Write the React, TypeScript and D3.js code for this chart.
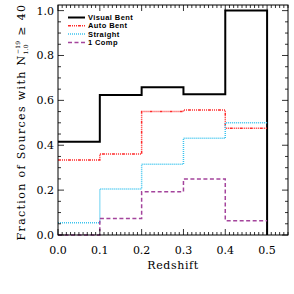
import React, { useRef, useEffect } from "react";
import * as d3 from "d3";

const binEdges = [0.0, 0.1, 0.2, 0.3, 0.4, 0.5];
const visualBent = [0.416, 0.624, 0.658, 0.627, 1.0];
const autoBent = [0.334, 0.361, 0.55, 0.557, 0.476];
const straight = [0.055, 0.205, 0.315, 0.431, 0.5];
const oneComp = [0.0, 0.074, 0.193, 0.25, 0.064];
const xTicks = [0.0, 0.1, 0.2, 0.3, 0.4, 0.5];
const yTicks = [0.0, 0.2, 0.4, 0.6, 0.8, 1.0];

const series = [
  { name: "Visual Bent", values: visualBent, color: "#000000", width: 2, dash: null, dropEnd: true },
  { name: "Auto Bent", values: autoBent, color: "#ff2a2a", width: 1.5, dash: "3,1,1,1,1,1,1,1", dropEnd: false },
  { name: "Straight", values: straight, color: "#3cc4ee", width: 1.5, dash: "1,1", dropEnd: false },
  { name: "1 Comp", values: oneComp, color: "#a4449c", width: 1.5, dash: "4,2.5", dropEnd: false },
];

const App = () => {
  const svgRef = useRef<SVGSVGElement>(null);

  useEffect(() => {
    if (!svgRef.current) return;
    const svg = d3.select(svgRef.current);
    svg.selectAll("*").remove();

    const width = 294;
    const height = 294;
    const left = 58;
    const right = 288;
    const top = 5;
    const bottom = 235;

    const x = d3.scaleLinear([0, 0.55], [left, right]);
    const y = d3.scaleLinear([0, 1.025], [bottom, top]);

    svg.attr("width", width).attr("height", height);

    // histograms
    const line = d3
      .line<[number, number]>()
      .x((d) => x(d[0]))
      .y((d) => y(d[1]))
      .curve(d3.curveStepAfter);

    series.forEach((s) => {
      const pts: [number, number][] = s.values.map((v, i) => [binEdges[i], v]);
      pts.push([binEdges[binEdges.length - 1], s.values[s.values.length - 1]]);
      if (s.dropEnd) pts.push([binEdges[binEdges.length - 1], 0]);
      svg
        .append("path")
        .attr("fill", "none")
        .attr("stroke", s.color)
        .attr("stroke-width", s.width)
        .attr("stroke-dasharray", s.dash)
        .attr("d", line(pts));
    });

    // frame
    svg
      .append("rect")
      .attr("x", left)
      .attr("y", top)
      .attr("width", right - left)
      .attr("height", bottom - top)
      .attr("fill", "none")
      .attr("stroke", "#000")
      .attr("stroke-width", 1);

    // inward ticks on all four sides
    const g = svg.append("g").attr("stroke", "#000").attr("stroke-width", 0.8);
    d3.range(0, 0.5501, 0.01).forEach((v) => {
      const major = Math.abs(v * 10 - Math.round(v * 10)) < 1e-6;
      const len = major ? 6 : 3;
      g.append("line").attr("x1", x(v)).attr("x2", x(v)).attr("y1", bottom).attr("y2", bottom - len);
      g.append("line").attr("x1", x(v)).attr("x2", x(v)).attr("y1", top).attr("y2", top + len);
    });
    d3.range(0, 1.0001, 0.05).forEach((v) => {
      const major = Math.abs(v * 5 - Math.round(v * 5)) < 1e-6;
      const len = major ? 6 : 3;
      g.append("line").attr("x1", left).attr("x2", left + len).attr("y1", y(v)).attr("y2", y(v));
      g.append("line").attr("x1", right).attr("x2", right - len).attr("y1", y(v)).attr("y2", y(v));
    });

    const font = "'DejaVu Serif', serif";

    // tick labels
    svg
      .append("g")
      .selectAll("text")
      .data(xTicks)
      .join("text")
      .attr("x", (d) => x(d))
      .attr("y", bottom + 19)
      .attr("text-anchor", "middle")
      .attr("font-family", font)
      .attr("font-size", 11)
      .text((d) => d.toFixed(1));

    svg
      .append("g")
      .selectAll("text")
      .data(yTicks)
      .join("text")
      .attr("x", left - 4)
      .attr("y", (d) => y(d) + 4)
      .attr("text-anchor", "end")
      .attr("font-family", font)
      .attr("font-size", 11)
      .text((d) => d.toFixed(1));

    // axis titles
    svg
      .append("text")
      .attr("x", x(0.275))
      .attr("y", bottom + 34)
      .attr("text-anchor", "middle")
      .attr("font-family", font)
      .attr("font-size", 11)
      .attr("letter-spacing", 0.6)
      .text("Redshift");

    const yl = svg
      .append("text")
      .attr("transform", `translate(25,122) rotate(-90)`)
      .attr("text-anchor", "middle")
      .attr("font-family", font)
      .attr("font-size", 11)
      .attr("letter-spacing", 1.35);
    yl.append("tspan").text("Fraction of Sources with N");
    yl.append("tspan").attr("font-size", 6).attr("letter-spacing", 0.3).attr("dy", 3).text("1.0");
    yl.append("tspan").attr("font-size", 6).attr("letter-spacing", 0.3).attr("dx", -10).attr("dy", -8).text("\u221219");
    yl.append("tspan").attr("dy", 5).text(" \u2265 40");

    // legend
    const lg = svg.append("g");
    series.forEach((s, i) => {
      const ly = 17.5 + i * 8.3;
      lg.append("line")
        .attr("x1", 68)
        .attr("x2", 85)
        .attr("y1", ly)
        .attr("y2", ly)
        .attr("stroke", s.color)
        .attr("stroke-width", s.width)
        .attr("stroke-dasharray", s.dash);
      lg.append("text")
        .attr("x", 88)
        .attr("y", ly + 2.6)
        .attr("font-family", "'Liberation Sans', sans-serif")
        .attr("font-weight", "bold")
        .attr("font-size", 7.5)
        .attr("letter-spacing", 0.4)
        .text(s.name);
    });
  }, []);

  return (
    <svg
      ref={svgRef}
      style={{ position: "absolute", left: 0, top: 0, background: "#fff" }}
    ></svg>
  );
};

export default App;
